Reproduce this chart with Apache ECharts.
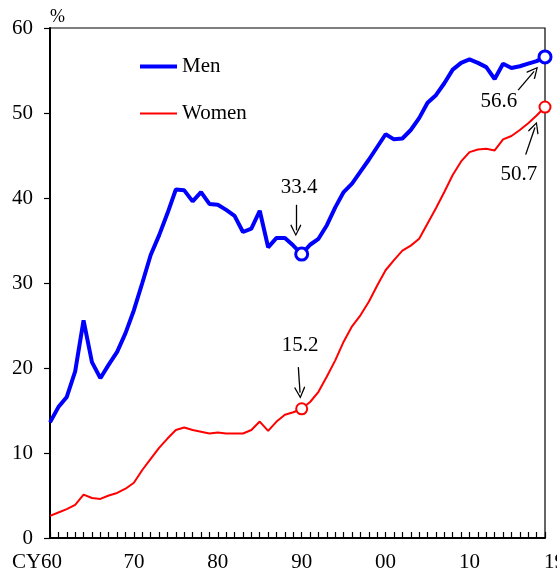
<!DOCTYPE html>
<html lang="en">
<head>
    <meta charset="UTF-8">
    <title>Men / Women</title>
    <script src="https://cdn.jsdelivr.net/npm/echarts@6/dist/echarts.min.js"></script>
    <style>
        html, body { margin:0; padding:0; background:#fff; }
        #chart { width:557px; height:574px; }
    </style>
</head>
<body>
<div id="chart"></div>
<script>
    // data, 1960 - 2019
    var years = [];
    for (var y = 1960; y <= 2019; y++) { years.push(y); }

    var men = [
        13.6, 15.4, 16.6, 19.6, 25.6, 20.7, 18.8, 20.4, 21.9, 24.1,
        26.8, 30.0, 33.3, 35.6, 38.2, 41.0, 40.9, 39.6, 40.7, 39.3,
        39.2, 38.6, 37.9, 36.0, 36.4, 38.5, 34.2, 35.3, 35.3, 34.4,
        33.4, 34.5, 35.2, 36.8, 38.9, 40.7, 41.7, 43.1, 44.5, 46.0,
        47.5, 46.9, 47.0, 48.0, 49.4, 51.2, 52.1, 53.5, 55.1, 55.9,
        56.3, 55.9, 55.4, 54.0, 55.8, 55.3, 55.5, 55.8, 56.1, 56.6
    ];
    var women = [
        2.6, 3.0, 3.4, 3.9, 5.1, 4.7, 4.6, 5.0, 5.3, 5.8,
        6.5, 8.0, 9.3, 10.6, 11.7, 12.7, 13.0, 12.7, 12.5, 12.3,
        12.4, 12.3, 12.3, 12.3, 12.7, 13.7, 12.6, 13.7, 14.5, 14.8,
        15.2, 16.0, 17.2, 19.0, 20.9, 23.1, 24.9, 26.2, 27.8, 29.7,
        31.5, 32.7, 33.8, 34.4, 35.2, 37.0, 38.8, 40.7, 42.7, 44.3,
        45.4, 45.7, 45.8, 45.6, 46.9, 47.3, 48.0, 48.8, 49.7, 50.7
    ];
    var labelYears = [1960, 1970, 1980, 1990, 2000, 2010, 2019];
    var yTicks = [0, 10, 20, 30, 40, 50, 60];

    // highlighted points (year) for each series
    var menMarks = [1990, 2019];
    var womenMarks = [1990, 2019];

    // annotation placement: text anchor and arrow from/to, in data coords
    var notes = [
        { s: 'men',   year: 1990, text: [1989.7, 41.2], from: [1989.3, 39.2], to: [1989.3, 36.2] },
        { s: 'women', year: 1990, text: [1989.8, 22.7], from: [1989.6, 20.1], to: [1989.8, 17.1] },
        { s: 'men',   year: 2019, text: [2013.5, 51.4], from: [2015.8, 52.7], to: [2017.7, 54.9] },
        { s: 'women', year: 2019, text: [2015.9, 42.8], from: [2016.7, 45.1], to: [2017.8, 48.3] }
    ];

    var serif = '"Liberation Serif", "Times New Roman", serif';
    var seriesData = { men: men, women: women };

    function pairs(arr) {
        return years.map(function (yr, i) { return [yr, arr[i]]; });
    }
    function pick(arr, list) {
        return list.map(function (yr) { return [yr, arr[years.indexOf(yr)]]; });
    }

    var arrowPath = 'path://M0,0 L6,10 L5,11 L0,2.4 L-5,11 L-6,10 Z';
    var arrowLines = notes.map(function (n) {
        return [{ coord: n.from }, { coord: n.to }];
    });
    var noteText = notes.map(function (n) {
        var v = seriesData[n.s][years.indexOf(n.year)];
        return [n.text[0], n.text[1], v.toFixed(1)];
    });

    var myChart = echarts.init(document.getElementById('chart'));

    var option = {
        animation: false,
        title: {
            text: '%',
            left: 50,
            top: 8,
            padding: 0,
            textStyle: { fontFamily: serif, fontSize: 18, fontWeight: 'normal', color: '#000' }
        },
        legend: {
            data: [
                { name: 'Men', lineStyle: { width: 4, color: '#0000ff' } },
                { name: 'Women', lineStyle: { width: 2, color: '#ff0000' } }
            ],
            orient: 'vertical',
            left: 138,
            top: 56,
            padding: 0,
            itemWidth: 37,
            itemHeight: 14,
            itemGap: 26,
            itemStyle: { opacity: 0 },
            textStyle: { fontFamily: serif, fontSize: 21, color: '#000' }
        },
        grid: {
            left: 50,
            right: 12,
            top: 28,
            bottom: 36,
            outerBoundsMode: 'none',
            containLabel: false,
            show: true,
            borderColor: '#000',
            borderWidth: 1.2,
            backgroundColor: 'transparent'
        },
        xAxis: {
            type: 'value',
            min: 1960,
            max: 2019,
            interval: 1,
            splitLine: { show: false },
            axisLine: { lineStyle: { color: '#000', width: 2 } },
            axisTick: { inside: true, length: 6, lineStyle: { color: '#000', width: 1.2 } },
            axisLabel: {
                margin: 14,
                color: '#000',
                fontFamily: serif,
                fontSize: 21,
                formatter: function (v) {
                    if (labelYears.indexOf(v) < 0) return '';
                    if (v === 1960) return '{a|CY60}';
                    if (v === 2019) return '{b|19}';
                    return String(v).slice(2);
                },
                rich: {
                    a: { fontFamily: serif, fontSize: 21, color: '#000', padding: [0, 26, 0, 0] },
                    b: { fontFamily: serif, fontSize: 21, color: '#000', padding: [0, 0, 0, 19] }
                }
            }
        },
        yAxis: {
            type: 'value',
            min: yTicks[0],
            max: yTicks[yTicks.length - 1],
            interval: 10,
            splitLine: { show: false },
            axisLine: { show: true, lineStyle: { color: '#000', width: 2 } },
            axisTick: { show: true, length: 6, lineStyle: { color: '#000', width: 1.2 } },
            axisLabel: { margin: 17, color: '#000', fontFamily: serif, fontSize: 21 }
        },
        series: [
            {
                name: 'Men',
                type: 'line',
                data: pairs(men),
                symbol: 'none',
                lineStyle: { color: '#0000ff', width: 4 },
                itemStyle: { color: '#0000ff' },
                z: 3
            },
            {
                name: 'Women',
                type: 'line',
                data: pairs(women),
                symbol: 'none',
                lineStyle: { color: '#ff0000', width: 2 },
                itemStyle: { color: '#ff0000' },
                z: 2
            },
            {
                type: 'scatter',
                data: pick(men, menMarks),
                symbol: 'circle',
                symbolSize: 12,
                itemStyle: { color: '#fff', borderColor: '#0000ff', borderWidth: 3, opacity: 1 },
                z: 5
            },
            {
                type: 'scatter',
                data: pick(women, womenMarks),
                symbol: 'circle',
                symbolSize: 11,
                itemStyle: { color: '#fff', borderColor: '#ff0000', borderWidth: 2, opacity: 1 },
                z: 5
            },
            {
                type: 'scatter',
                data: noteText,
                symbolSize: 0,
                silent: true,
                itemStyle: { opacity: 1 },
                label: {
                    show: true,
                    position: 'inside',
                    fontFamily: serif,
                    fontSize: 21,
                    color: '#000',
                    opacity: 1,
                    formatter: function (p) { return p.data[2]; }
                },
                markLine: {
                    silent: true,
                    symbol: ['none', arrowPath],
                    symbolSize: [11, 12],
                    label: { show: false },
                    lineStyle: { color: '#000', width: 1.3, type: 'solid', opacity: 1 },
                    data: arrowLines
                },
                z: 6
            }
        ]
    };

    myChart.setOption(option);
</script>
</body>
</html>
